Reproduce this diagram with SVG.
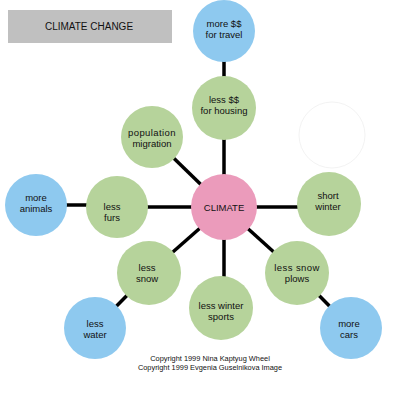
<svg xmlns="http://www.w3.org/2000/svg" width="400" height="400" viewBox="0 0 400 400">
<style>
text{font-family:"Liberation Sans",Arial,sans-serif;font-size:9.5px;fill:#111;text-anchor:middle}
.g{fill:#b6d39b}
.b{fill:#8ec9ef}
.p{fill:#eb9bbb}
.c line{stroke:#000;stroke-width:3.5}
.cp{font-size:7.4px}
</style>
<rect width="400" height="400" fill="#fff"/>
<g id="title">
<rect x="8" y="10" width="164" height="33" fill="#c0c0c0"/>
<text x="89" y="30" style="font-size:10px">CLIMATE CHANGE</text>
</g>
<circle cx="332" cy="135" r="33" fill="none" stroke="#f3f3f3" stroke-width="1"/>
<g class="c" id="connectors">
<line x1="224" y1="31" x2="224" y2="108"/>
<line x1="224" y1="108" x2="224" y2="207"/>
<line x1="152" y1="137" x2="224" y2="207"/>
<line x1="36" y1="205" x2="117" y2="205"/>
<line x1="117" y1="207" x2="224" y2="207"/>
<line x1="224" y1="207" x2="329" y2="207"/>
<line x1="224" y1="207" x2="297" y2="273"/>
<line x1="297" y1="273" x2="351" y2="328"/>
<line x1="224" y1="207" x2="224" y2="308"/>
<line x1="224" y1="207" x2="149" y2="273"/>
<line x1="149" y1="273" x2="95" y2="328"/>
</g>
<g id="travel"><circle class="b" cx="224" cy="31" r="31"/><text x="224" y="27">more $$</text><text x="224" y="38">for travel</text></g>
<g id="housing"><circle class="g" cx="224" cy="108" r="32"/><text x="224" y="103">less $$</text><text x="224" y="114">for housing</text></g>
<g id="migration"><circle class="g" cx="152" cy="137" r="31"/><text x="152" y="136" letter-spacing="0.4">population</text><text x="152" y="147">migration</text></g>
<g id="climate"><circle class="p" cx="224" cy="207" r="33"/><text x="224" y="211">CLIMATE</text></g>
<g id="animals"><circle class="b" cx="36" cy="205" r="31"/><text x="36" y="201">more</text><text x="36" y="212">animals</text></g>
<g id="furs"><circle class="g" cx="117" cy="207" r="31"/><text x="112" y="210">less</text><text x="112" y="221">furs</text></g>
<g id="short"><circle class="g" cx="329" cy="204" r="32"/><text x="328" y="199">short</text><text x="328" y="210">winter</text></g>
<g id="plows"><circle class="g" cx="297" cy="273" r="32"/><text x="297" y="271" letter-spacing="0.4">less snow</text><text x="297" y="282">plows</text></g>
<g id="cars"><circle class="b" cx="351" cy="328" r="31"/><text x="349" y="327">more</text><text x="349" y="338">cars</text></g>
<g id="sports"><circle class="g" cx="221" cy="308" r="32"/><text x="221" y="309">less winter</text><text x="221" y="320">sports</text></g>
<g id="snow"><circle class="g" cx="149" cy="273" r="32"/><text x="147" y="271">less</text><text x="147" y="282">snow</text></g>
<g id="water"><circle class="b" cx="95" cy="328" r="31"/><text x="95" y="327">less</text><text x="95" y="338">water</text></g>
<g id="copyright">
<text class="cp" x="210" y="361">Copyright 1999 Nina Kaptyug Wheel</text>
<text class="cp" x="210" y="370">Copyright 1999 Evgenia Guselnikova Image</text>
</g>
</svg>
